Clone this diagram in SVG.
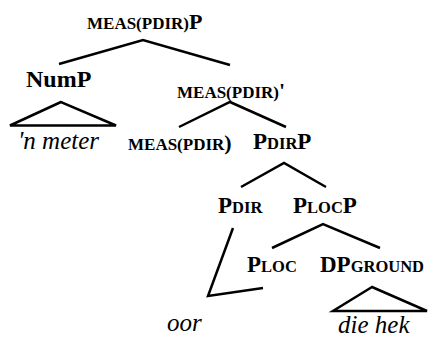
<svg xmlns="http://www.w3.org/2000/svg" width="432" height="338" viewBox="0 0 432 338">
<style>
text{font-family:"Liberation Serif","Times New Roman",Times,serif;fill:#000}
.b{font-weight:bold}
.big{font-size:23px}
.sc{font-size:17px}
.sub{font-size:16.5px}
.it{font-style:italic;font-size:25px}
.ln{stroke:#000;stroke-width:2.5;fill:none;stroke-linecap:butt;stroke-linejoin:miter}
</style>
<rect width="432" height="338" fill="#fff"/>
<g id="connectors" class="ln">
<polyline points="59,64 143,40 230,65"/>
<polygon points="61,102 10,125.5 116,125.5"/>
<polyline points="179,127 230,102 286,127"/>
<polyline points="241,187 284,163 326,187"/>
<polyline points="272,248 323,224 380,248"/>
<polyline points="233,228 208,296 263,288"/>
<polygon points="372,287 333,311 427,311"/>
</g>
<g id="measP"><text class="b" x="87" y="29"><tspan class="sc">MEAS(PDIR)</tspan><tspan style="font-size:22px">P</tspan></text></g>
<g id="numP"><text class="b" x="26" y="87" style="font-size:24px">NumP</text></g>
<g id="nmeter"><text class="it" x="18" y="149">'n meter</text></g>
<g id="measBar"><text class="b" x="177" y="98"><tspan class="sc">MEAS(PDIR)</tspan><tspan style="font-size:22px">'</tspan></text></g>
<g id="meas"><text class="b" x="128" y="150"><tspan class="sc">MEAS(PDIR</tspan><tspan style="font-size:22px">)</tspan></text></g>
<g id="pdirP"><text class="b" x="253" y="149"><tspan class="big">P</tspan><tspan class="sub">DIR</tspan><tspan class="big">P</tspan></text></g>
<g id="pdir"><text class="b" x="218" y="213"><tspan class="big">P</tspan><tspan class="sub">DIR</tspan></text></g>
<g id="plocP"><text class="b" x="293" y="213"><tspan class="big">P</tspan><tspan class="sub">LOC</tspan><tspan class="big">P</tspan></text></g>
<g id="ploc"><text class="b" x="247" y="272"><tspan class="big">P</tspan><tspan class="sub">LOC</tspan></text></g>
<g id="dpground"><text class="b" x="320" y="272"><tspan class="big">DP</tspan><tspan class="sub">GROUND</tspan></text></g>
<g id="oor"><text class="it" x="167" y="331">oor</text></g>
<g id="diehek"><text class="it" x="338" y="333">die hek</text></g>
</svg>
